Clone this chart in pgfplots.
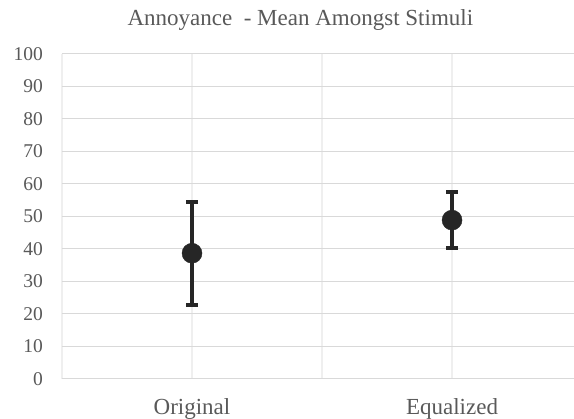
\documentclass[border=0pt]{standalone}
\usepackage{pgfplots}
\pgfplotsset{compat=1.18}
\usepackage{fontspec}
\setmainfont{Liberation Serif}
\definecolor{txt}{HTML}{595959}
\definecolor{hgrid}{HTML}{D9D9D9}
\definecolor{vgrid}{HTML}{EFEFEF}
\definecolor{pt}{HTML}{262626}
\begin{document}
\begin{tikzpicture}
\begin{axis}[
  scale only axis,
  width=512pt, height=325pt,
  xmin=0, xmax=3.938,
  ymin=0, ymax=100,
  ytick={0,10,...,100},
  xtick={0,1,2,3},
  xticklabels={,Original,,Equalized},
  axis line style={draw=none},
  major tick length=0pt,
  grid=major,
  x grid style={color=vgrid, line width=2pt},
  y grid style={color=hgrid, line width=1.3pt},
  /pgf/number format/assume math mode=true,
  yticklabel style={font=\fontsize{19.5}{22}\selectfont, text=txt, inner sep=0pt, xshift=-19pt},
  xticklabel style={font=\fontsize{23}{26}\selectfont, text=txt, inner sep=0pt, anchor=north, yshift=-19.8pt},
  title={Annoyance\ \ - Mean Amongst Stimuli},
  title style={font=\fontsize{23}{26}\selectfont, text=txt, at={(0.4656,1)}, anchor=base, yshift=22.5pt, inner sep=0pt},
  clip=false,
]
\addplot+[only marks, mark=*, mark size=10pt, color=pt, mark options={fill=pt, draw=pt},
  error bars/.cd, y dir=both, y explicit,
  error bar style={line width=4pt, color=pt},
  error mark options={rotate=90, line width=4pt, mark size=6pt, color=pt}]
  coordinates {
    (1,38.6) += (0,15.7) -= (0,15.8)
    (3,48.8) += (0,8.6) -= (0,8.7)
  };
\end{axis}
\pgfresetboundingbox
\path[use as bounding box] ([xshift=-62pt,yshift=-40.3pt]current axis.south west) rectangle ([yshift=53.7pt]current axis.north east);
\end{tikzpicture}
\end{document}
